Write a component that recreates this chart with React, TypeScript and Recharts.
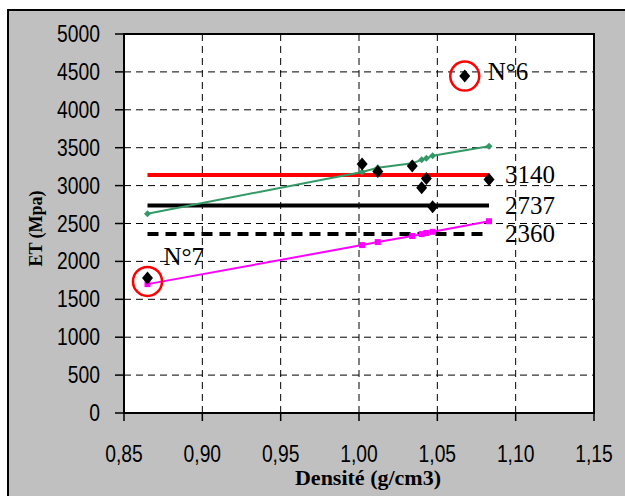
import React from 'react';
import {
  ScatterChart,
  Scatter,
  XAxis,
  YAxis,
  CartesianGrid,
  ReferenceArea,
} from 'recharts';

// ---- data ----
const xTicks = [0.85, 0.9, 0.95, 1.0, 1.05, 1.1, 1.15];
const yTicks = [0, 500, 1000, 1500, 2000, 2500, 3000, 3500, 4000, 4500, 5000];

const sampleDensity = [0.865, 1.002, 1.012, 1.034, 1.04, 1.043, 1.047, 1.0675, 1.083];
const sampleET = [1780, 3285, 3185, 3260, 2970, 3095, 2720, 4445, 3080];

const fitDensity = [0.865, 1.002, 1.012, 1.034, 1.04, 1.043, 1.047, 1.083];
const greenFitET = [2630, 3180, 3235, 3295, 3340, 3360, 3395, 3520];
const magentaFitET = [1700, 2215, 2255, 2335, 2360, 2375, 2390, 2530];

const levelDensity = [0.865, 1.083];
const levelValues = [3140, 2737, 2360];

const outlierLabels = ['N°6', 'N°7'];
const outlierDensity = [1.0675, 0.865];
const outlierET = [4445, 1735];

// ---- tables built from arrays ----
const samples = sampleDensity.map((x, i) => ({ x, y: sampleET[i] }));
const greenFit = fitDensity.map((x, i) => ({ x, y: greenFitET[i] }));
const magentaFit = fitDensity.map((x, i) => ({ x, y: magentaFitET[i] }));
const levels = levelValues.map((v) =>
  levelDensity.map((x, i) => ({ x, y: v, label: i === levelDensity.length - 1 ? String(v) : '' }))
);
const outliers = outlierLabels.map((label, i) => ({ x: outlierDensity[i], y: outlierET[i], label }));

const SANS = 'Liberation Sans, Arial, sans-serif';
const SERIF = 'Liberation Serif, Times New Roman, serif';

const YTick = (p: any) => (
  <text
    transform={`translate(${p.x},${p.y}) scale(0.84,1)`}
    textAnchor="end"
    dy={8}
    fontSize={23}
    fontFamily={SANS}
    fill="#000"
  >
    {p.payload.value}
  </text>
);

const XTick = (p: any) => (
  <text
    transform={`translate(${p.x},${p.y}) scale(0.84,1)`}
    textAnchor="middle"
    dy={16.5}
    fontSize={23}
    fontFamily={SANS}
    fill="#000"
  >
    {Number(p.payload.value).toFixed(2).replace('.', ',')}
  </text>
);

const diamond = (cx: number, cy: number, rx: number, ry: number, fill: string) => (
  <path d={`M${cx},${cy - ry}L${cx + rx},${cy}L${cx},${cy + ry}L${cx - rx},${cy}Z`} fill={fill} />
);

const BlackDiamond = (p: any) => diamond(p.cx, p.cy, 5.5, 6.5, '#000');
const GreenDiamond = (p: any) => diamond(p.cx, p.cy, 3.5, 3.5, '#339966');
const MagentaSquare = (p: any) => (
  <rect x={p.cx - 3} y={p.cy - 3} width={6} height={6} fill="#FF00FF" />
);

const LevelLabel = (p: any) =>
  p.payload.label ? (
    <text x={p.cx + 16} y={p.cy + 8} fontSize={25} fontFamily={SERIF} fill="#000">
      {p.payload.label}
    </text>
  ) : (
    <g />
  );

const OutlierMark = (p: any) => {
  const isSix = p.payload.label === 'N°6';
  return (
    <g>
      <circle cx={p.cx} cy={p.cy} r={14.5} fill="none" stroke="#FF0000" strokeWidth={2.5} />
      <text
        x={p.cx + (isSix ? 23 : 16)}
        y={p.cy + (isSix ? 4 : -16)}
        fontSize={25}
        fontFamily={SERIF}
        fill="#000"
      >
        {p.payload.label}
      </text>
    </g>
  );
};

const XTitle = (p: any) => {
  const vb = p.viewBox;
  return (
    <text
      x={vb.x + vb.width / 2 + 9}
      y={485}
      textAnchor="middle"
      fontSize={22}
      fontWeight="bold"
      fontFamily={SERIF}
      fill="#000"
    >
      Densité (g/cm3)
    </text>
  );
};

const YTitle = (p: any) => {
  const vb = p.viewBox;
  return (
    <text
      transform={`translate(42,${vb.y + vb.height / 2 + 5}) rotate(-90)`}
      textAnchor="middle"
      fontSize={18}
      fontWeight="bold"
      fontFamily={SERIF}
      fill="#000"
    >
      ET (Mpa)
    </text>
  );
};

const levelStyles = [
  { stroke: '#FF0000', strokeWidth: 4 },
  { stroke: '#000000', strokeWidth: 4 },
  { stroke: '#000000', strokeWidth: 4, strokeDasharray: '11 7' },
];

export default function App() {
  return (
    <div style={{ position: 'absolute', left: 0, top: 0, width: 625, height: 496, overflow: 'hidden', background: '#fff' }}>
      <div
        style={{
          position: 'absolute',
          left: 7,
          top: 9,
          width: 640,
          height: 520,
          background: '#C0C0C0',
          borderLeft: '2px solid #000',
          borderTop: '2px solid #000',
        }}
      />
      <div style={{ position: 'absolute', left: 0, top: 0 }}>
        <ScatterChart width={625} height={496} margin={{ top: 34, right: 31, bottom: 0, left: 0 }}>
          <CartesianGrid stroke="#000" strokeDasharray="7 5" fill="#FFFFFF" fillOpacity={1} />
          <XAxis
            type="number"
            dataKey="x"
            domain={[0.85, 1.15]}
            ticks={xTicks}
            interval={0}
            height={83}
            tickSize={8}
            tickMargin={24}
            tick={XTick}
            axisLine={{ stroke: '#000', strokeWidth: 2 }}
            tickLine={{ stroke: '#000', strokeWidth: 1.5 }}
            allowDataOverflow
            label={XTitle}
          />
          <YAxis
            type="number"
            dataKey="y"
            domain={[0, 5000]}
            ticks={yTicks}
            interval={0}
            width={124}
            tickSize={9}
            tickMargin={15}
            tick={YTick}
            axisLine={{ stroke: '#000', strokeWidth: 2 }}
            tickLine={{ stroke: '#000', strokeWidth: 1.5 }}
            allowDataOverflow
            label={YTitle}
          />
          <ReferenceArea x1={0.85} x2={1.15} y1={0} y2={5000} fill="none" stroke="#000" strokeWidth={2} />
          {levels.map((d, i) => (
            <Scatter
              key={i}
              data={d}
              line={levelStyles[i]}
              shape={LevelLabel}
              isAnimationActive={false}
            />
          ))}
          <Scatter
            data={greenFit}
            line={{ stroke: '#339966', strokeWidth: 2 }}
            shape={GreenDiamond}
            isAnimationActive={false}
          />
          <Scatter
            data={magentaFit}
            line={{ stroke: '#FF00FF', strokeWidth: 2 }}
            shape={MagentaSquare}
            isAnimationActive={false}
          />
          <Scatter data={samples} shape={BlackDiamond} isAnimationActive={false} />
          <Scatter data={outliers} shape={OutlierMark} isAnimationActive={false} />
        </ScatterChart>
      </div>
    </div>
  );
}
